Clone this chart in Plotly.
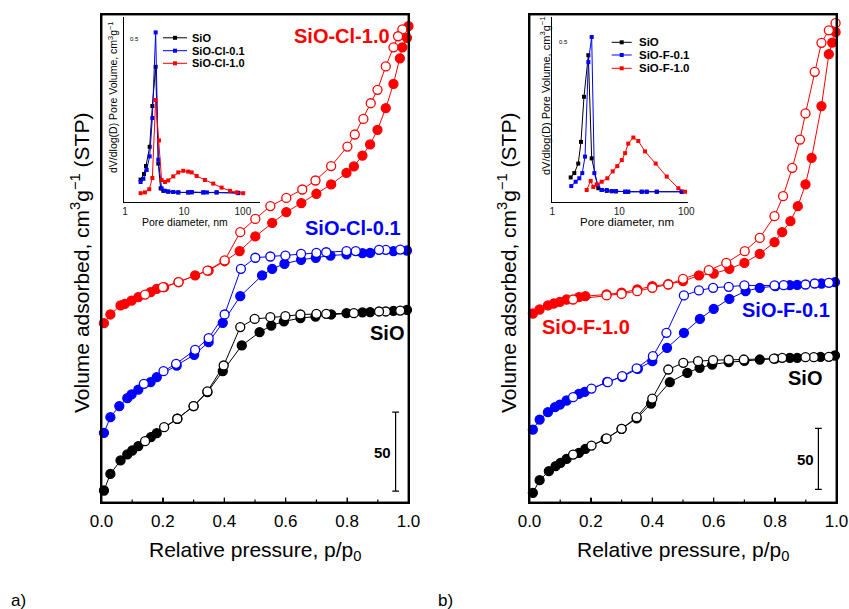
import math
import plotly.graph_objects as go

W, H = 849, 609

# ---------------- Left panel (SiO-Cl) isotherms ----------------
cl_sio_ads_p = [0.008, 0.029, 0.062, 0.084, 0.100, 0.120, 0.161, 0.180, 0.247, 0.300, 0.345, 0.395, 0.457, 0.515,
                0.553, 0.594, 0.648, 0.697, 0.748, 0.798, 0.850, 0.875, 0.951, 0.995]
cl_sio_ads_v = [7.6, 18.1, 26.6, 30.4, 32.9, 35.7, 41.4, 43.9, 53.0, 61.0, 69.8, 83.1, 99.4, 107.8,
                112.0, 114.6, 116.7, 117.7, 119.0, 119.8, 120.3, 120.5, 121.3, 121.9]
cl_sio_des_p = [0.973, 0.926, 0.904, 0.822, 0.732, 0.700, 0.648, 0.599, 0.550, 0.499, 0.452, 0.398, 0.345,
                0.300, 0.247, 0.204, 0.142]
cl_sio_des_v = [121.5, 120.9, 120.9, 119.8, 119.4, 119.4, 119.0, 117.9, 117.3, 116.2, 111.0, 86.7, 70.3,
                61.0, 53.0, 47.7, 38.8]

cl_01_ads_p = [0.008, 0.029, 0.058, 0.084, 0.098, 0.120, 0.160, 0.180, 0.245, 0.302, 0.349, 0.395, 0.452, 0.523,
               0.556, 0.596, 0.650, 0.698, 0.746, 0.798, 0.850, 0.875, 0.951, 0.995]
cl_01_ads_v = [44.1, 54.0, 61.0, 66.0, 68.4, 71.5, 76.2, 79.3, 86.7, 93.5, 101.5, 113.7, 130.6, 143.7,
               147.9, 151.1, 153.6, 154.9, 156.3, 157.0, 157.8, 158.0, 159.1, 159.5]
cl_01_des_p = [0.973, 0.926, 0.904, 0.828, 0.798, 0.732, 0.700, 0.650, 0.599, 0.550, 0.501, 0.454, 0.401, 0.349,
               0.305, 0.243, 0.202, 0.138]
cl_01_des_v = [160.1, 159.9, 159.9, 159.1, 159.1, 158.4, 158.0, 157.4, 156.3, 155.7, 154.9, 147.9, 119.0, 104.0,
               96.6, 87.8, 83.1, 75.1]

cl_10_ads_p = [0.008, 0.029, 0.062, 0.076, 0.098, 0.120, 0.160, 0.180, 0.204, 0.251, 0.305, 0.349, 0.401, 0.450,
               0.501, 0.556, 0.602, 0.651, 0.700, 0.748, 0.798, 0.822, 0.850, 0.875, 0.899, 0.926, 0.951, 0.972,
               0.980, 0.995, 1.0]
cl_10_ads_v = [113.5, 119.0, 124.7, 125.7, 127.8, 130.0, 133.1, 135.2, 136.3, 139.5, 143.7, 146.8, 152.7, 159.1,
               168.4, 177.0, 183.8, 189.5, 195.4, 201.3, 208.6, 212.7, 219.6, 226.6, 235.9, 249.6, 264.9, 281.1,
               288.1, 294.1, 301.5]
cl_10_des_p = [0.980, 0.966, 0.951, 0.926, 0.899, 0.877, 0.853, 0.825, 0.801, 0.748, 0.697, 0.654, 0.602, 0.550,
               0.501, 0.452, 0.401, 0.345, 0.251, 0.200, 0.142]
cl_10_des_v = [299.4, 295.1, 288.1, 276.0, 261.2, 252.7, 242.8, 232.9, 225.3, 212.9, 203.8, 198.1, 192.8, 187.6,
               179.5, 171.1, 153.2, 146.8, 139.5, 136.3, 131.6]

# ---------------- Right panel (SiO-F) isotherms ----------------
f_sio_ads_p = [0.011, 0.033, 0.063, 0.085, 0.101, 0.121, 0.161, 0.182, 0.248, 0.300, 0.349, 0.396, 0.457, 0.514,
               0.554, 0.595, 0.649, 0.700, 0.750, 0.800, 0.848, 0.872, 0.948, 0.995]
f_sio_ads_v = [7.9, 18.3, 25.7, 29.8, 32.5, 35.8, 40.7, 44.0, 52.2, 60.4, 68.9, 81.1, 98.6, 106.3,
               110.4, 113.1, 115.0, 116.2, 117.2, 118.0, 118.6, 118.6, 119.4, 120.5]
f_sio_des_p = [0.975, 0.926, 0.899, 0.823, 0.796, 0.698, 0.649, 0.598, 0.549, 0.501, 0.452, 0.400, 0.349, 0.300,
               0.251, 0.202, 0.142]
f_sio_des_v = [119.4, 119.1, 119.1, 118.6, 118.0, 117.2, 117.0, 116.7, 115.8, 114.5, 109.0, 85.2, 69.9, 60.4,
               52.5, 46.7, 39.3]

f_01_ads_p = [0.011, 0.033, 0.060, 0.083, 0.099, 0.121, 0.161, 0.180, 0.253, 0.302, 0.353, 0.400, 0.448, 0.503,
              0.555, 0.600, 0.651, 0.704, 0.750, 0.801, 0.848, 0.872, 0.951, 0.995]
f_01_ads_v = [59.8, 68.0, 74.0, 78.1, 80.3, 83.6, 89.1, 90.7, 98.9, 103.0, 109.6, 115.8, 126.8, 139.1,
              150.5, 158.7, 166.9, 173.2, 176.0, 177.3, 178.1, 178.3, 179.5, 180.6]
f_01_des_p = [0.975, 0.929, 0.899, 0.828, 0.798, 0.700, 0.649, 0.598, 0.552, 0.503, 0.446, 0.402, 0.349, 0.302,
              0.255, 0.202, 0.142]
f_01_des_v = [180.1, 179.5, 178.7, 178.1, 177.9, 177.9, 176.8, 176.0, 173.8, 169.7, 139.1, 119.9, 110.0, 103.6,
              98.6, 93.4, 86.3]

f_10_ads_p = [0.011, 0.033, 0.060, 0.079, 0.099, 0.121, 0.161, 0.182, 0.251, 0.300, 0.351, 0.400, 0.452, 0.500,
              0.552, 0.600, 0.651, 0.700, 0.750, 0.798, 0.823, 0.850, 0.874, 0.899, 0.919, 0.951, 0.975, 0.986,
              0.997]
f_10_ads_v = [154.9, 158.2, 161.5, 163.1, 164.5, 166.4, 168.3, 169.1, 170.5, 172.0, 174.6, 177.3, 179.0, 181.4,
              186.1, 187.7, 191.5, 196.4, 203.8, 213.4, 221.6, 230.6, 242.9, 260.7, 282.5, 324.9, 367.5, 377.0,
              385.5]
f_10_des_p = [0.997, 0.975, 0.951, 0.929, 0.899, 0.881, 0.856, 0.826, 0.798, 0.750, 0.701, 0.641, 0.584, 0.500,
              0.452, 0.400, 0.351, 0.300, 0.251, 0.142]
f_10_des_v = [393.0, 387.0, 376.8, 353.0, 318.9, 297.5, 274.3, 251.1, 234.7, 216.9, 206.0, 196.4, 190.4, 183.3,
              178.7, 176.0, 173.2, 171.0, 169.7, 166.4]

# ---------------- Insets: pore size distributions ----------------
cl_psd_sio_d = [1.84, 2.10, 2.27, 2.62, 2.91, 3.31, 3.67, 4.02, 4.46, 5.42, 6.59, 8.02, 11.8, 13.5, 21.3, 35.8, 83.4]
cl_psd_sio_v = [0.28, 0.35, 0.45, 0.69, 1.20, 1.69, 0.48, 0.17, 0.14, 0.13, 0.125, 0.12, 0.12, 0.12, 0.12, 0.12, 0.115]
cl_psd_01_d = [1.84, 2.05, 2.33, 2.62, 2.91, 3.31, 3.67, 4.18, 4.76, 5.42, 6.59, 8.02, 11.8, 13.5, 21.3, 24.5,
               35.8, 83.4]
cl_psd_01_v = [0.25, 0.29, 0.40, 0.57, 1.05, 2.12, 0.53, 0.17, 0.14, 0.13, 0.125, 0.12, 0.12, 0.125, 0.12, 0.12,
               0.12, 0.11]
cl_psd_10_d = [1.84, 2.18, 2.58, 2.91, 3.31, 3.77, 4.18, 4.76, 5.42, 6.59, 8.02, 9.74, 11.8, 13.5, 16.4, 22.7,
               31.4, 43.5, 60.2, 78.1, 101.0]
cl_psd_10_v = [0.11, 0.12, 0.16, 0.30, 1.275, 0.77, 0.275, 0.25, 0.27, 0.32, 0.37, 0.39, 0.38, 0.37, 0.325, 0.275,
               0.23, 0.18, 0.14, 0.12, 0.11]

f_psd_sio_d = [1.88, 2.13, 2.44, 2.68, 2.97, 3.45, 3.87, 4.86, 5.46, 6.5, 7.7, 8.9, 12.2, 13.6, 21.6, 25.6, 36.2, 85.4]
f_psd_sio_v = [0.28, 0.33, 0.44, 0.69, 1.21, 1.69, 0.50, 0.155, 0.135, 0.125, 0.12, 0.12, 0.115, 0.115, 0.115,
               0.115, 0.115, 0.115]
f_psd_01_d = [1.92, 2.23, 2.53, 2.80, 3.08, 3.45, 3.87, 4.24, 4.76, 5.46, 6.49, 7.70, 8.93, 12.2, 13.5, 21.6, 25.6,
              36.2, 85.4]
f_psd_01_v = [0.18, 0.23, 0.27, 0.33, 0.52, 1.61, 1.90, 0.33, 0.19, 0.135, 0.135, 0.123, 0.12, 0.115, 0.115, 0.115,
              0.115, 0.115, 0.115]
f_psd_10_d = [3.26, 3.74, 4.09, 4.60, 5.46, 6.62, 7.97, 9.33, 10.9, 12.2, 13.6, 16.2, 19.2, 24.2, 34.9, 51.0, 76.0,
              95.6]
f_psd_10_v = [0.135, 0.24, 0.17, 0.20, 0.23, 0.27, 0.35, 0.41, 0.48, 0.56, 0.67, 0.74, 0.70, 0.58, 0.44, 0.29,
              0.155, 0.115]

# labels
cl_names = ["SiO", "SiO-Cl-0.1", "SiO-Cl-1.0"]
f_names = ["SiO", "SiO-F-0.1", "SiO-F-1.0"]
x_major = [0.0, 0.2, 0.4, 0.6, 0.8, 1.0]
x_minor = [0.1, 0.3, 0.5, 0.7, 0.9]
psd_ticks = [1, 10, 100]
SCALE_MAIN = 50
SCALE_PSD = 0.5

BLACK = "#000000"
BLUE = "#0000ff"
RED = "#ff0000"
FONT = "Liberation Sans, Arial, sans-serif"

# panel boxes (pixels in the 849x609 page)
MAIN_L = dict(x0=101.5, x1=408.5, y0=502.5, y1=14.5)
MAIN_R = dict(x0=529.5, x1=836.5, y0=502.5, y1=14.5)
PXU_L = 1.58   # pixels per cm3/g, left panel
PXU_R = 1.22   # pixels per cm3/g, right panel
FRAME_W = 1.5


def px(x):
    return x / W


def py(y):
    return 1 - y / H


fig = go.Figure()


def iso(p, v, color, filled, xa, ya):
    fig.add_trace(go.Scatter(
        x=p, y=v, mode="lines+markers", xaxis=xa, yaxis=ya, cliponaxis=False,
        line=dict(color=color, width=1),
        marker=dict(symbol="circle", size=9, color=color if filled else "white",
                    line=dict(color=color, width=1.3)),
        showlegend=False, hoverinfo="skip"))


for (ap, av, dp, dv, c) in [
    (cl_sio_ads_p, cl_sio_ads_v, cl_sio_des_p, cl_sio_des_v, BLACK),
    (cl_01_ads_p, cl_01_ads_v, cl_01_des_p, cl_01_des_v, BLUE),
    (cl_10_ads_p, cl_10_ads_v, cl_10_des_p, cl_10_des_v, RED),
]:
    iso(ap, av, c, True, "x", "y")
    iso(dp, dv, c, False, "x", "y")

for (ap, av, dp, dv, c) in [
    (f_sio_ads_p, f_sio_ads_v, f_sio_des_p, f_sio_des_v, BLACK),
    (f_01_ads_p, f_01_ads_v, f_01_des_p, f_01_des_v, BLUE),
    (f_10_ads_p, f_10_ads_v, f_10_des_p, f_10_des_v, RED),
]:
    iso(ap, av, c, True, "x2", "y2")
    iso(dp, dv, c, False, "x2", "y2")


def psd(d, v, color, xa, ya):
    fig.add_trace(go.Scatter(
        x=d, y=v, mode="lines+markers", xaxis=xa, yaxis=ya, cliponaxis=False,
        line=dict(color=color, width=1),
        marker=dict(symbol="square", size=4, color=color, line=dict(width=0)),
        showlegend=False, hoverinfo="skip"))


for d, v, c in [(cl_psd_sio_d, cl_psd_sio_v, BLACK), (cl_psd_01_d, cl_psd_01_v, BLUE),
                (cl_psd_10_d, cl_psd_10_v, RED)]:
    psd(d, v, c, "x3", "y3")
for d, v, c in [(f_psd_sio_d, f_psd_sio_v, BLACK), (f_psd_01_d, f_psd_01_v, BLUE),
                (f_psd_10_d, f_psd_10_v, RED)]:
    psd(d, v, c, "x4", "y4")

# inside tick marks of the main x axes, drawn on the axes' own scales
for xa, ya, pxu in (("x", "y", PXU_L), ("x2", "y2", PXU_R)):
    tx, ty = [], []
    for t, ln in [(t, 5) for t in x_major[1:-1]] + [(t, 3) for t in x_minor]:
        tx += [t, t, None]
        ty += [0, ln / pxu, None]
    fig.add_trace(go.Scatter(x=tx, y=ty, mode="lines", xaxis=xa, yaxis=ya,
                             line=dict(color="black", width=1.2), showlegend=False, hoverinfo="skip"))

# frame of the main panels on a page-sized overlay axis (pixel units)
for box in (MAIN_L, MAIN_R):
    fig.add_trace(go.Scatter(
        x=[box["x0"], box["x1"], box["x1"], box["x0"], box["x0"]],
        y=[box["y0"], box["y0"], box["y1"], box["y1"], box["y0"]],
        mode="lines", xaxis="x5", yaxis="y5", line=dict(color="black", width=FRAME_W),
        showlegend=False, hoverinfo="skip"))

main_x = dict(range=[0, 1], tickvals=x_major, ticktext=[f"{t:.1f}" for t in x_major],
              ticks="inside", ticklen=5, tickwidth=1.2, tickcolor="black",
              showline=True, linecolor="black", linewidth=FRAME_W, mirror=True,
              showgrid=False, zeroline=False, automargin=False,
              tickfont=dict(family=FONT, size=17, color="black"), ticklabelstandoff=3, fixedrange=True)
main_y = dict(showline=True, linecolor="black", linewidth=FRAME_W, mirror=True,
              showgrid=False, zeroline=False, automargin=False,
              showticklabels=False, ticks="", fixedrange=True)

ins_x = dict(type="log", tickvals=psd_ticks, ticktext=[str(t) for t in psd_ticks], ticks="",
             showline=True, linecolor="black", linewidth=1, showgrid=False, zeroline=False, automargin=False,
             tickfont=dict(family=FONT, size=10, color="#222"), ticklabelstandoff=0, fixedrange=True)
ins_y = dict(showline=True, linecolor="black", linewidth=1, showgrid=False, zeroline=False, automargin=False,
             showticklabels=False, ticks="", fixedrange=True)

fig.update_layout(
    width=W, height=H, margin=dict(l=0, r=0, t=0, b=0, pad=0, autoexpand=False), autosize=False,
    paper_bgcolor="white", plot_bgcolor="rgba(0,0,0,0)", showlegend=False,
    xaxis=dict(main_x, domain=[px(MAIN_L["x0"]), px(MAIN_L["x1"])], anchor="y"),
    yaxis=dict(main_y, domain=[py(MAIN_L["y0"]), py(MAIN_L["y1"])],
               range=[0, (MAIN_L["y0"] - MAIN_L["y1"]) / PXU_L], anchor="x"),
    xaxis2=dict(main_x, domain=[px(MAIN_R["x0"]), px(MAIN_R["x1"])], anchor="y2"),
    yaxis2=dict(main_y, domain=[py(MAIN_R["y0"]), py(MAIN_R["y1"])],
                range=[0, (MAIN_R["y0"] - MAIN_R["y1"]) / PXU_R], anchor="x2"),
    xaxis3=dict(ins_x, domain=[px(124), px(260)], range=[-0.017, 2.29], anchor="y3"),
    yaxis3=dict(ins_y, domain=[py(202), py(17)], range=[0, (202 - 17) / 80], anchor="x3"),
    xaxis4=dict(ins_x, domain=[px(552.3), px(688)], range=[0, 2.025], anchor="y4"),
    yaxis4=dict(ins_y, domain=[py(201.7), py(16.7)], range=[0, (201.7 - 16.7) / 86.7], anchor="x4"),
    xaxis5=dict(domain=[0, 1], range=[0, W], visible=False, fixedrange=True, anchor="y5"),
    yaxis5=dict(domain=[0, 1], range=[H, 0], visible=False, fixedrange=True, anchor="x5"),
)

shapes = []
annots = []

# frame again as page shapes (edges as thin filled strips)
for box in (MAIN_L, MAIN_R):
    h = FRAME_W / 2
    for (a0, a1, b0, b1) in [
        (box["x0"] - h, box["x1"] + h, box["y0"] - h, box["y0"] + h),
        (box["x0"] - h, box["x1"] + h, box["y1"] - h, box["y1"] + h),
        (box["x0"] - h, box["x0"] + h, box["y1"] - h, box["y0"] + h),
        (box["x1"] - h, box["x1"] + h, box["y1"] - h, box["y0"] + h),
    ]:
        shapes.append(dict(type="rect", xref="paper", yref="paper", x0=px(a0), x1=px(a1),
                           y0=py(b1), y1=py(b0), line=dict(width=0), fillcolor="black", layer="above"))


def note(x, y, text, size, color="black", xref="paper", yref="paper", angle=0, xanchor="center"):
    annots.append(dict(x=x, y=y, xref=xref, yref=yref, text=text, showarrow=False, textangle=angle,
                       xanchor=xanchor, yanchor="middle", font=dict(family=FONT, size=size, color=color)))


# main scale bars (50 units)
for xa, ya, xb, yb0, cap in [("x", "y", 0.958, 7.2, 0.011), ("x2", "y2", 0.941, 10.7, 0.011)]:
    shapes.append(dict(type="line", xref=xa, yref=ya, x0=xb, x1=xb, y0=yb0, y1=yb0 + SCALE_MAIN,
                       line=dict(color="black", width=1.2)))
    for yy in (yb0, yb0 + SCALE_MAIN):
        shapes.append(dict(type="line", xref=xa, yref=ya, x0=xb - cap, x1=xb + cap, y0=yy, y1=yy,
                           line=dict(color="black", width=1.2)))
note(0.915, 31.8, f"<b>{SCALE_MAIN}</b>", 15, xref="x", yref="y")
note(0.90, 35.0, f"<b>{SCALE_MAIN}</b>", 15, xref="x2", yref="y2")

# inset scale bars (0.5)
for xa, ya, xb, yb0, lx, ly in [("x3", "y3", 1.80, 1.79, 1.47, 2.04), ("x4", "y4", 1.79, 1.588, 1.46, 1.84)]:
    lxb = math.log10(xb)
    shapes.append(dict(type="line", xref=xa, yref=ya, x0=lxb, x1=lxb, y0=yb0, y1=yb0 + SCALE_PSD,
                       line=dict(color="black", width=1)))
    for yy in (yb0, yb0 + SCALE_PSD):
        shapes.append(dict(type="line", xref=xa, yref=ya, x0=lxb - 0.02, x1=lxb + 0.02, y0=yy, y1=yy,
                           line=dict(color="black", width=1)))
    note(math.log10(lx), ly, str(SCALE_PSD), 6, xref=xa, yref=ya)

# inset legends (drawn manually)
for names, colors, x0, x1, tx, rows, fs in [
    (cl_names, [BLACK, BLUE, RED], 163, 187, 190, [37.8, 50.7, 63.3], 11),
    (f_names, [BLACK, BLUE, RED], 611.7, 631.7, 637, [42.3, 55, 68.3], 11.5),
]:
    for n, c, r in zip(names, colors, rows):
        shapes.append(dict(type="line", xref="paper", yref="paper", x0=px(x0), x1=px(x1), y0=py(r), y1=py(r),
                           line=dict(color=c, width=1)))
        xm = (x0 + x1) / 2
        shapes.append(dict(type="rect", xref="paper", yref="paper", x0=px(xm - 2), x1=px(xm + 2),
                           y0=py(r + 2), y1=py(r - 2), line=dict(width=0), fillcolor=c))
        note(px(tx), py(r), f"<b>{n}</b>", fs, xanchor="left")

# series labels on main panels
for text, color, cx, cy in [
    ("SiO-Cl-1.0", RED, 341.5, 36), ("SiO-Cl-0.1", BLUE, 353, 228), ("SiO", BLACK, 386.5, 333),
    ("SiO-F-1.0", RED, 586, 327), ("SiO-F-0.1", BLUE, 786, 310), ("SiO", BLACK, 805, 378),
]:
    note(px(cx), py(cy), f"<b>{text}</b>", 20, color=color)

# axis titles
for cx in (255, 682.5):
    note(px(cx), py(551), "Relative pressure, p/p<sub>0</sub>", 21)
for cx in (80, 507):
    note(px(cx), py(263), "Volume adsorbed, cm<sup>3</sup>g<sup>\u22121</sup> (STP)", 21, angle=-90)
# inset titles
note(px(185), py(222.5), "Pore diameter, nm", 10.5)
note(px(626.7), py(222.5), "Pore diameter, nm", 11.5)
note(px(112), py(98), "dV/dlog(D) Pore Volume, cm<sup>3</sup>g<sup>\u22121</sup>", 10.5, angle=-90)
note(px(545), py(96), "dV/dlog(D) Pore Volume, cm<sup>3</sup>g<sup>\u22121</sup>", 11, angle=-90)

# panel letters
note(px(18), py(600), "a)", 17)
note(px(446), py(600), "b)", 17)

fig.update_layout(shapes=shapes, annotations=annots)
fig.write_html("out.html", config={"displayModeBar": False, "staticPlot": True},
               post_script="document.body.style.margin='0';document.body.style.overflow='hidden';")
